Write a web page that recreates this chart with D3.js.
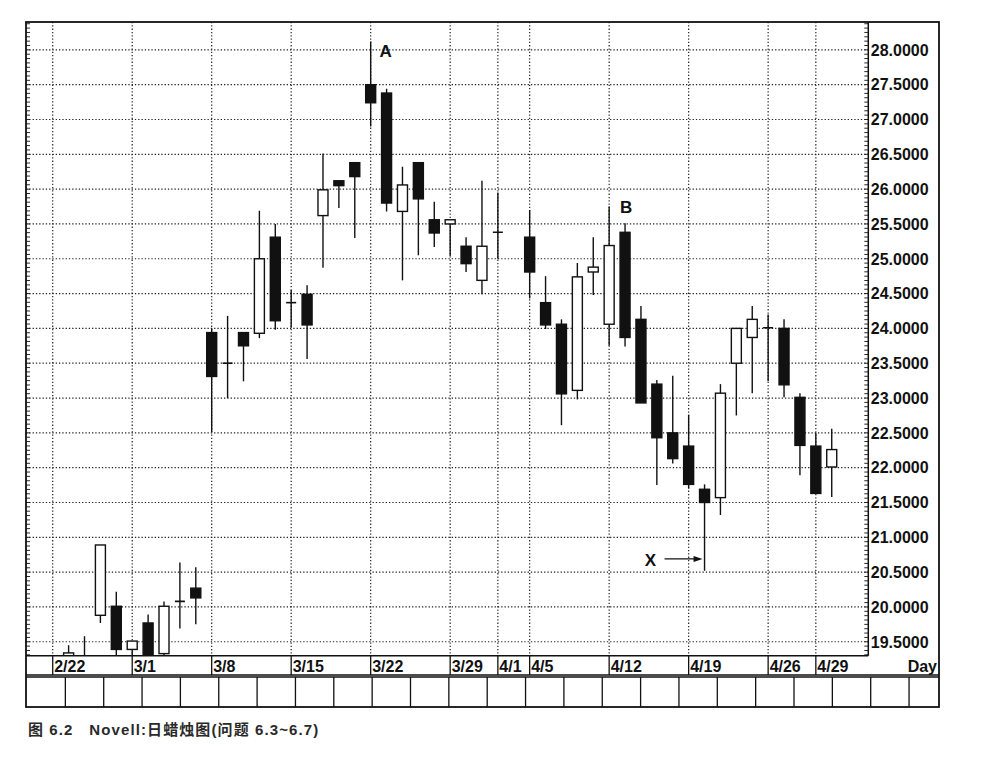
<!DOCTYPE html>
<html>
<head>
<meta charset="utf-8">
<script src="https://cdn.jsdelivr.net/npm/d3@7"></script>
<style>
  body { margin: 0; background: #fff; }
  svg { display: block; }
  .lbl { font-family: "Liberation Sans", Arial, sans-serif; font-weight: bold; fill: #111; }
</style>
</head>
<body>
<script>
// Novell daily candles, 1999
const days  = ['2/23','2/24','2/25','2/26','3/1','3/2','3/3','3/4','3/5',
  '3/8','3/9','3/10','3/11','3/12','3/15','3/16','3/17','3/18','3/19',
  '3/22','3/23','3/24','3/25','3/26','3/29','3/30','3/31','4/1',
  '4/5','4/6','4/7','4/8','4/9','4/12','4/13','4/14','4/15','4/16',
  '4/19','4/20','4/21','4/22','4/23','4/26','4/27','4/28','4/29','4/30']
const opens = [19.25,19.20,19.88,20.01,19.39,19.77,19.33,20.08,20.27,
  23.94,23.50,23.94,23.93,25.31,24.37,24.49,25.62,26.12,26.38,
  27.50,27.38,25.68,26.38,25.56,25.50,25.18,24.69,25.38,
  25.31,24.37,24.06,23.11,24.81,24.06,25.38,24.13,23.20,22.50,
  22.31,21.69,21.57,23.50,23.87,24.01,24.00,23.01,22.31,22.01]
const highs = [19.45,19.58,20.89,20.22,19.51,19.89,20.08,20.64,20.57,
  24.00,24.18,23.94,25.69,25.50,24.55,24.62,26.51,26.12,26.38,
  28.12,27.44,26.32,26.38,25.82,25.56,25.31,26.12,25.95,
  25.70,24.75,24.13,24.94,25.31,25.75,25.51,24.32,23.26,23.32,
  22.76,21.76,23.20,24.00,24.32,24.20,24.13,23.07,22.50,22.56]
const lows  = [19.20,19.10,19.77,19.25,19.25,19.20,19.30,19.69,19.75,
  22.51,23.00,23.24,23.86,23.98,24.01,23.56,24.87,25.73,25.30,
  26.90,25.68,24.69,25.05,25.17,25.04,24.81,24.49,25.00,
  24.43,23.99,22.61,22.98,24.48,23.75,23.74,22.93,21.75,22.06,
  21.70,20.52,21.32,22.75,23.07,23.24,23.01,21.89,21.63,21.58]
const closes = [19.34,19.25,20.89,19.39,19.51,19.25,20.01,20.08,20.13,
  23.31,23.50,23.75,25.00,24.11,24.37,24.05,25.99,26.05,26.18,
  27.24,25.80,26.06,25.86,25.37,25.56,24.93,25.18,25.38,
  24.81,24.05,23.06,24.74,24.88,25.19,23.87,22.93,22.43,22.13,
  21.76,21.50,23.07,24.00,24.13,24.01,23.19,22.32,21.63,22.26]

const dateLabels = ['2/22','3/1','3/8','3/15','3/22','3/29','4/1','4/5','4/12','4/19','4/26','4/29']
const priceTicks = d3.range(19.5, 28.01, 0.5)
const notes = [{ text: 'A', day: '3/22' }, { text: 'B', day: '4/13' }]
const arrowNote = { text: 'X', day: '4/20', price: 20.69 }
const caption = '图 6.2   Novell:日蜡烛图(问题 6.3~6.7)'

const W = 982, H = 757
const plotLeft = 26, plotRight = 868.3, plotTop = 22, plotBottom = 655.7
const frameRight = 939, rowBottom = 675, cellTop = 677, cellBottom = 707

// weekday slots (holidays keep their slot, e.g. Good Friday 4/2)
const parseDay = d3.timeParse('%m/%d/%Y')
const slots = d3.timeDay.range(parseDay('2/22/1999'), parseDay('5/8/1999'))
  .filter(d => d.getDay() !== 0 && d.getDay() !== 6)
  .map(d => (d.getMonth() + 1) + '/' + d.getDate())
const slotIndex = new Map(slots.map((s, i) => [s, i]))

const x = d3.scaleLinear().domain([-1.68, 51.3]).range([plotLeft, plotRight])
const y = d3.scaleLinear().domain([19.30, 28.40]).range([plotBottom, plotTop])
const bodyW = 10

const candles = days.map((d, i) => ({
  day: d, open: opens[i], high: highs[i], low: lows[i], close: closes[i]
}))

const svg = d3.select('body').append('svg')
  .attr('width', W).attr('height', H)

svg.append('rect').attr('width', W).attr('height', H).attr('fill', '#fff')

svg.append('clipPath').attr('id', 'plot')
  .append('rect').attr('x', plotLeft).attr('y', plotTop)
  .attr('width', plotRight - plotLeft).attr('height', plotBottom - plotTop)

// dotted grid
const grid = svg.append('g').attr('stroke', '#222').attr('stroke-width', 1.2)
  .attr('stroke-dasharray', '1.3,2')
grid.selectAll('line.h').data(priceTicks).enter().append('line')
  .attr('x1', plotLeft).attr('x2', plotRight)
  .attr('y1', d => y(d)).attr('y2', d => y(d))
grid.selectAll('line.v').data(dateLabels).enter().append('line')
  .attr('x1', d => x(slotIndex.get(d))).attr('x2', d => x(slotIndex.get(d)))
  .attr('y1', plotTop).attr('y2', plotBottom)

// minor ticks, both sides of the plot
const minor = d3.range(19.3125, 28.4, 0.0625)
const ticks = svg.append('g').attr('stroke', '#111').attr('stroke-width', 0.9)
ticks.selectAll('line.r').data(minor).enter().append('line')
  .attr('x1', plotRight - 4).attr('x2', plotRight)
  .attr('y1', d => y(d)).attr('y2', d => y(d))
ticks.selectAll('line.l').data(minor).enter().append('line')
  .attr('x1', plotLeft).attr('x2', plotLeft + 4)
  .attr('y1', d => y(d)).attr('y2', d => y(d))

// candles
const cg = svg.append('g').attr('clip-path', 'url(#plot)')
const c = cg.selectAll('g.candle').data(candles).enter().append('g')
  .attr('transform', d => 'translate(' + x(slotIndex.get(d.day)) + ',0)')
c.append('line')
  .attr('y1', d => y(d.high)).attr('y2', d => y(d.low))
  .attr('stroke', '#111').attr('stroke-width', 1.4)
c.filter(d => d.open !== d.close).append('rect')
  .attr('x', -bodyW / 2).attr('width', bodyW)
  .attr('y', d => y(Math.max(d.open, d.close)))
  .attr('height', d => Math.max(1, Math.abs(y(d.open) - y(d.close))))
  .attr('fill', d => d.close > d.open ? '#fff' : '#111')
  .attr('stroke', '#111').attr('stroke-width', 1.4)
c.filter(d => d.open === d.close).append('line')
  .attr('x1', -bodyW / 2).attr('x2', bodyW / 2)
  .attr('y1', d => y(d.open)).attr('y2', d => y(d.open))
  .attr('stroke', '#111').attr('stroke-width', 1.6)

// annotations
svg.selectAll('text.note').data(notes).enter().append('text')
  .attr('class', 'lbl')
  .attr('x', d => d.text === 'A' ? x(slotIndex.get(d.day)) + 15 : x(slotIndex.get(d.day)) + 1)
  .attr('y', d => {
    const cd = candles.find(k => k.day === d.day)
    return d.text === 'A' ? y(cd.high) + 16 : y(cd.high) - 10
  })
  .attr('text-anchor', 'middle').attr('font-size', 17)
  .text(d => d.text)

const tipX = x(slotIndex.get(arrowNote.day)) - 2
const tipY = y(arrowNote.price)
svg.append('line').attr('x1', tipX - 38).attr('x2', tipX - 6)
  .attr('y1', tipY).attr('y2', tipY)
  .attr('stroke', '#111').attr('stroke-width', 1.3)
svg.append('path')
  .attr('d', d3.line()([[tipX, tipY], [tipX - 9, tipY - 3], [tipX - 9, tipY + 3]]) + 'Z')
  .attr('fill', '#111')
svg.append('text').attr('class', 'lbl')
  .attr('x', tipX - 52).attr('y', tipY + 7)
  .attr('text-anchor', 'middle').attr('font-size', 17)
  .text(arrowNote.text)

// right price labels
svg.selectAll('text.price').data(priceTicks).enter().append('text')
  .attr('class', 'lbl')
  .attr('x', plotRight + 2.5).attr('y', d => y(d))
  .attr('dy', '0.36em').attr('font-size', 16)
  .text(d3.format('.4f'))

// frame
const frame = svg.append('g').attr('stroke', '#111').attr('fill', 'none')
frame.append('rect').attr('x', plotLeft).attr('y', plotTop)
  .attr('width', frameRight - plotLeft).attr('height', cellBottom - plotTop)
  .attr('stroke-width', 1.8)
frame.append('line').attr('x1', plotRight).attr('x2', plotRight)
  .attr('y1', plotTop).attr('y2', plotBottom).attr('stroke-width', 1.5)
frame.append('line').attr('x1', plotLeft).attr('x2', plotRight)
  .attr('y1', plotBottom).attr('y2', plotBottom).attr('stroke-width', 1.5)
frame.append('line').attr('x1', plotLeft).attr('x2', frameRight)
  .attr('y1', rowBottom).attr('y2', rowBottom).attr('stroke-width', 1.3)
frame.append('line').attr('x1', plotLeft).attr('x2', frameRight)
  .attr('y1', cellTop).attr('y2', cellTop).attr('stroke-width', 1.3)

// date row
frame.selectAll('line.sep').data(dateLabels).enter().append('line')
  .attr('x1', d => x(slotIndex.get(d))).attr('x2', d => x(slotIndex.get(d)))
  .attr('y1', plotBottom).attr('y2', rowBottom).attr('stroke-width', 1.3)
svg.selectAll('text.day').data(dateLabels).enter().append('text')
  .attr('class', 'lbl')
  .attr('x', d => x(slotIndex.get(d)) + 1.5).attr('y', rowBottom - 3.5)
  .attr('font-size', 16)
  .text(d => d)
svg.append('text').attr('class', 'lbl')
  .attr('x', frameRight - 2).attr('y', rowBottom - 3.5)
  .attr('text-anchor', 'end').attr('font-size', 16)
  .text('Day')

// empty lower panel cells
const cellX = d3.scaleLinear().domain([0, 22]).range([plotLeft + 1, plotRight + 2.4])
frame.selectAll('line.cell').data(d3.range(1, 24)).enter().append('line')
  .attr('x1', d => cellX(d)).attr('x2', d => cellX(d))
  .attr('y1', cellTop).attr('y2', cellBottom).attr('stroke-width', 1.3)

// caption
svg.append('text')
  .attr('x', 28).attr('y', 735)
  .style('white-space', 'pre')
  .attr('font-family', '"Liberation Sans", "Noto Sans CJK SC", sans-serif')
  .attr('font-weight', 'bold').attr('font-size', 15).attr('fill', '#2a2a2a')
  .attr('letter-spacing', 1.1)
  .text(caption)
</script>
</body>
</html>
